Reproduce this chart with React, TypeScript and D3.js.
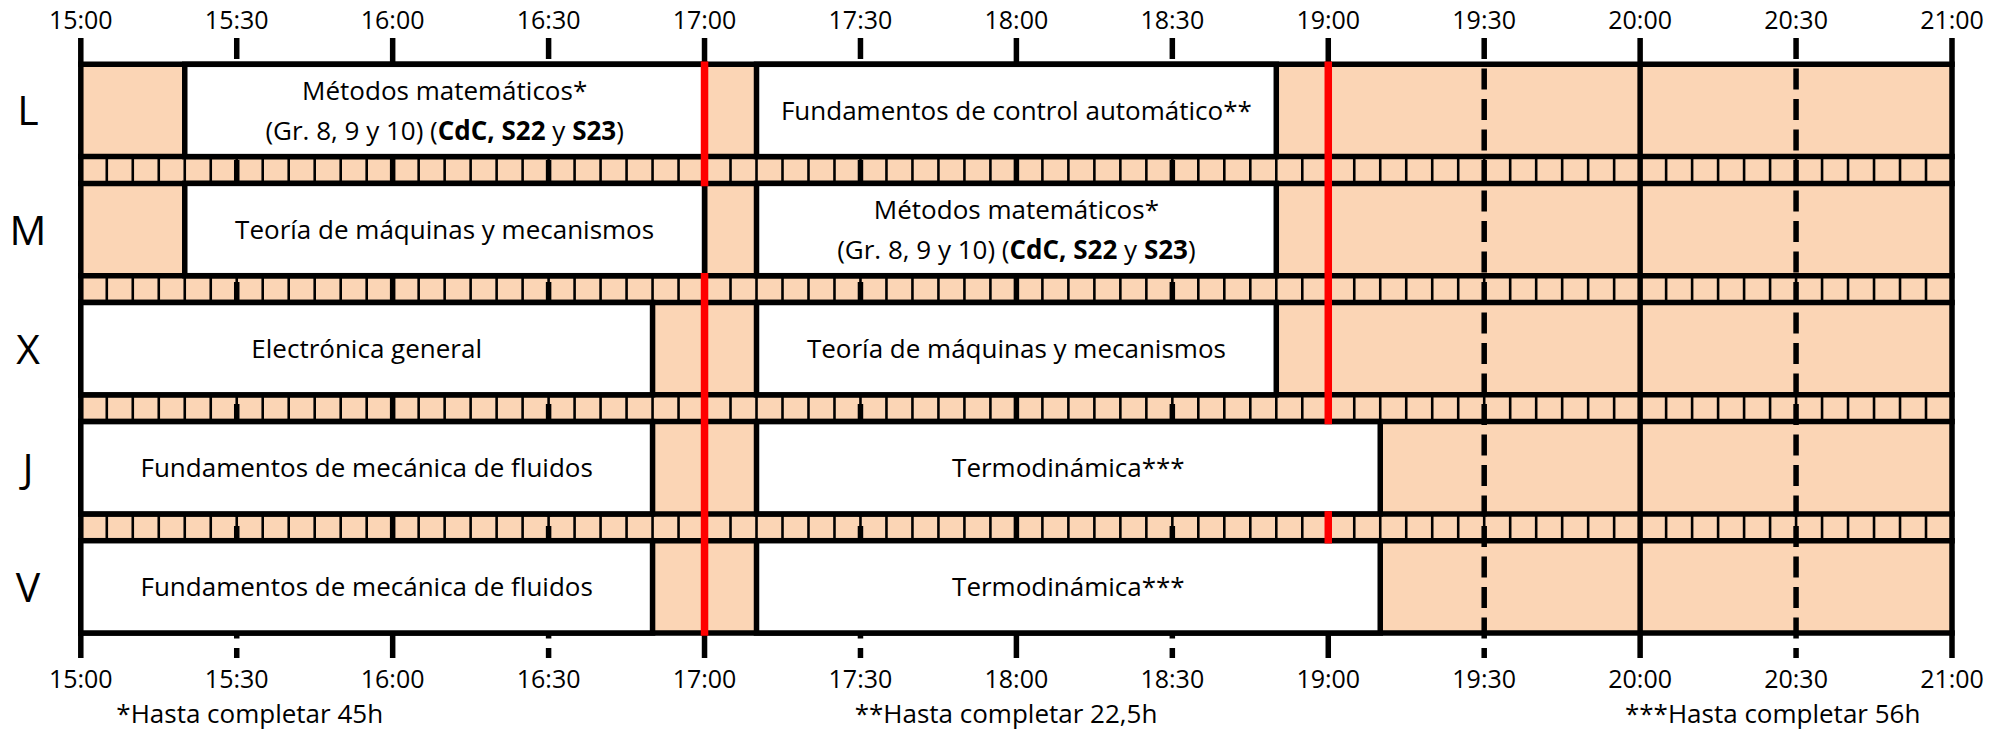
import React from "react";
import * as d3 from "d3";

// ---------- DATA ----------
const DAYS = ["L", "M", "X", "J", "V"];
const TICK_LABELS = [
  "15:00", "15:30", "16:00", "16:30", "17:00", "17:30", "18:00",
  "18:30", "19:00", "19:30", "20:00", "20:30", "21:00",
];
const SESSION_DAY = ["L", "L", "M", "M", "X", "X", "J", "J", "V", "V"];
const SESSION_START = ["15:20", "17:10", "15:20", "17:10", "15:00", "17:10", "15:00", "17:10", "15:00", "17:10"];
const SESSION_END = ["17:00", "18:50", "17:00", "18:50", "16:50", "18:50", "16:50", "19:10", "16:50", "19:10"];
// lines of each label; [..] marks bold text
const SESSION_TEXT: string[][] = [
  ["Métodos matemáticos*", "(Gr. 8, 9 y 10) ([CdC, S22] y [S23])"],
  ["Fundamentos de control automático**"],
  ["Teoría de máquinas y mecanismos"],
  ["Métodos matemáticos*", "(Gr. 8, 9 y 10) ([CdC, S22] y [S23])"],
  ["Electrónica general"],
  ["Teoría de máquinas y mecanismos"],
  ["Fundamentos de mecánica de fluidos"],
  ["Termodinámica***"],
  ["Fundamentos de mecánica de fluidos"],
  ["Termodinámica***"],
];
// red marker segments: time, from (day, edge) to (day, edge)
const RED_TIME = ["17:00", "17:00", "19:00", "19:00"];
const RED_FROM: [string, string][] = [["L", "top"], ["M", "bottom"], ["L", "top"], ["J", "bottom"]];
const RED_TO: [string, string][] = [["M", "top"], ["V", "bottom"], ["J", "top"], ["V", "top"]];
const FOOTNOTES = ["*Hasta completar 45h", "**Hasta completar 22,5h", "***Hasta completar 56h"];

// ---------- LAYOUT ----------
const W = 2008;
const H = 732;
const FONT = "'Open Sans', 'Noto Sans', sans-serif";
const TAN = "#FBD5B5";
const LW = 5.5;
const FOOT_CENTER_MIN = [32.5, 178, 325.5];

const toMin = (t: string) => {
  const [h, m] = t.split(":").map(Number);
  return (h - 15) * 60 + m;
};

export default function App() {
  const x = d3.scaleLinear().domain([0, 360]).range([80.8, 1952]);
  const y = d3.scaleBand<string>().domain(DAYS).range([64.3, 633]).paddingInner(0.225).paddingOuter(0);
  const bw = y.bandwidth();
  const top = (d: string) => y(d) as number;
  const bottom = (d: string) => (y(d) as number) + bw;
  const edge = (d: string, e: string) => (e === "top" ? top(d) : bottom(d));

  const x0 = x(0);
  const x1 = x(360);
  const yTop = top(DAYS[0]);
  const yBot = bottom(DAYS[DAYS.length - 1]);

  const tickMins = TICK_LABELS.map(toMin);
  const fiveMins = d3.range(5, 360, 5);

  const strips = DAYS.slice(0, -1).map((d, i) => ({ y0: bottom(d), y1: top(DAYS[i + 1]) }));

  const renderLine = (line: string, key: number, yy: number, cx: number) => {
    const parts = line.split(/(\[[^\]]*\])/).filter((p) => p.length);
    return (
      <text key={key} x={cx} y={yy} textAnchor="middle" fontSize={26} fontFamily={FONT} fill="#000">
        {parts.map((p, j) =>
          p.startsWith("[") ? (
            <tspan key={j} fontWeight={700}>{p.slice(1, -1)}</tspan>
          ) : (
            <tspan key={j}>{p}</tspan>
          )
        )}
      </text>
    );
  };

  return (
    <svg width={W} height={H} style={{ position: "absolute", left: 0, top: 0, background: "#fff" }}>
      <rect x={0} y={0} width={W} height={H} fill="#fff" />
      {/* tan background */}
      <rect x={x0} y={yTop} width={x1 - x0} height={yBot - yTop} fill={TAN} />

      {/* 5-minute dividers in strips */}
      {strips.map((s, i) => (
        <g key={"s" + i}>
          {fiveMins.map((m) => (
            <line key={m} x1={x(m)} x2={x(m)} y1={s.y0} y2={s.y1} stroke="#000" strokeWidth={2.6} />
          ))}
        </g>
      ))}

      {/* vertical grid lines */}
      {tickMins.map((m) => (
        <line
          key={"v" + m}
          x1={x(m)}
          x2={x(m)}
          y1={38}
          y2={658}
          stroke="#000"
          strokeWidth={LW}
          strokeDasharray={m % 60 === 0 ? undefined : "21 9.5"}
        />
      ))}

      {/* horizontal lines */}
      {DAYS.flatMap((d) => [top(d), bottom(d)]).map((yy, i) => (
        <line key={"h" + i} x1={x0 - LW / 2} x2={x1 + LW / 2} y1={yy} y2={yy} stroke="#000" strokeWidth={LW} />
      ))}

      {/* sessions */}
      {SESSION_DAY.map((d, i) => {
        const sx = x(toMin(SESSION_START[i]));
        const ex = x(toMin(SESSION_END[i]));
        return (
          <rect key={"b" + i} x={sx} y={top(d)} width={ex - sx} height={bw} fill="#fff" stroke="#000" strokeWidth={LW} />
        );
      })}

      {/* red markers */}
      {RED_TIME.map((t, i) => {
        const xx = x(toMin(t));
        const ya = edge(RED_FROM[i][0], RED_FROM[i][1]) - LW / 2;
        const yb = edge(RED_TO[i][0], RED_TO[i][1]) + LW / 2;
        return <line key={"r" + i} x1={xx} x2={xx} y1={ya} y2={yb} stroke="#FF0000" strokeWidth={7.5} />;
      })}

      {/* session text */}
      {SESSION_DAY.map((d, i) => {
        const cx = (x(toMin(SESSION_START[i])) + x(toMin(SESSION_END[i]))) / 2;
        const cy = top(d) + bw / 2;
        const lines = SESSION_TEXT[i];
        const gap = 40;
        return (
          <g key={"t" + i}>
            {lines.map((ln, j) => renderLine(ln, j, cy + 9.4 + (j - (lines.length - 1) / 2) * gap, cx))}
          </g>
        );
      })}

      {/* day labels */}
      {DAYS.map((d) => (
        <text key={"d" + d} x={28} y={top(d) + bw / 2 + 15} textAnchor="middle" fontSize={41} fontFamily={FONT} fill="#000">
          {d}
        </text>
      ))}

      {/* tick labels */}
      {TICK_LABELS.map((t, i) => (
        <g key={"tl" + i}>
          <text x={x(tickMins[i])} y={28.5} textAnchor="middle" fontSize={25} fontFamily={FONT} fill="#000">{t}</text>
          <text x={x(tickMins[i])} y={688} textAnchor="middle" fontSize={25} fontFamily={FONT} fill="#000">{t}</text>
        </g>
      ))}

      {/* footnotes */}
      {FOOTNOTES.map((f, i) => (
        <text key={"f" + i} x={x(FOOT_CENTER_MIN[i])} y={723} textAnchor="middle" fontSize={26} fontFamily={FONT} fill="#000">
          {f}
        </text>
      ))}
    </svg>
  );
}
